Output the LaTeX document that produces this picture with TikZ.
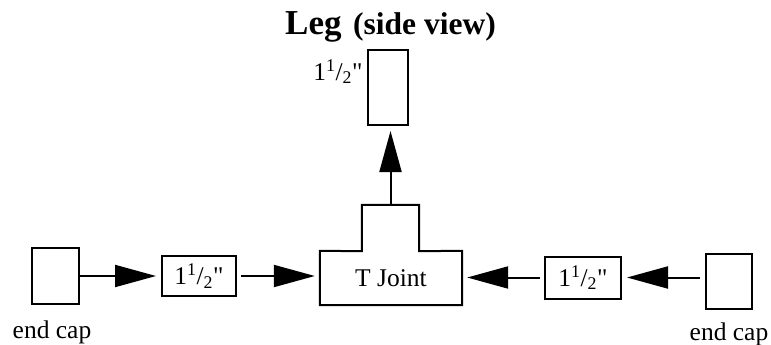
\documentclass[tikz,border=0pt]{standalone}
\usepackage{fontspec}
\setmainfont{Liberation Serif}
\usetikzlibrary{calc, positioning}
\usetikzlibrary{arrows.meta}

\newcommand{\halfinch}{1\textsuperscript{1}/\textsubscript{2}\textquotedbl}

\begin{document}
\begin{tikzpicture}[x=1pt,y=-1pt,
  part/.style={draw,line width=2pt,inner sep=0pt},
  label/.style={font=\fontsize{25.5}{27}\selectfont},
  link/.style={line width=2pt,-{Triangle[length=41pt,width=22pt]},shorten >=5pt}]
\useasboundingbox (0,0) rectangle (771,345);

% title
\node[font=\fontsize{35}{37}\selectfont\bfseries,anchor=base west,inner sep=0pt] (legtitle) at (285,35) {Leg};
\node[font=\fontsize{31.5}{33}\selectfont\bfseries,anchor=base west,inner sep=0pt] (sidetitle) at (353,35) {(side view)};

% parts
\node[part,minimum width=47pt,minimum height=56pt] (capL) at (55.5,276) {};
\node[part,label,minimum width=74pt,minimum height=40pt] (pipeL) at (199,276) {\halfinch};
\node[inner sep=0pt,label,minimum width=142pt,minimum height=54pt] (tbase) at (391,278) {T Joint};
\node[inner sep=0pt,minimum width=57pt,minimum height=46pt] (tstub) at (390.5,228) {};
\node[part,label,minimum width=76pt,minimum height=42pt] (pipeR) at (583,277.5) {\halfinch};
\node[part,minimum width=46pt,minimum height=55pt] (capR) at (729,281.5) {};
\node[part,minimum width=40pt,minimum height=75pt] (leg) at (388,87.5) {};

% T joint outline
\draw[line width=2pt] (tbase.south west) -- (tbase.south east) -- (tbase.north east)
  -- (tstub.south east) -- (tstub.north east) -- (tstub.north west)
  -- (tstub.south west) -- (tbase.north west) -- cycle;

% labels
\node[label,anchor=east] (leglabel) at ($(leg.west)+(-1,-16)$) {\halfinch};
\node[label,anchor=base] (capLlabel) at (52,338) {end cap};
\node[label,anchor=base] (capRlabel) at (729,340) {end cap};

% connectors
\draw[link] (capL.east) -- (capL.east -| pipeL.west);
\draw[link,shorten <=4pt] (pipeL.east) -- (pipeL.east -| tbase.west);
\draw[link,shorten <=5pt] (capR.west |- pipeR.east) -- (pipeR.east);
\draw[link,shorten <=4pt] (pipeR.west) -- (pipeR.west -| tbase.east);
\draw[link] (tstub.north) -- (tstub.north |- leg.south);
\end{tikzpicture}
\end{document}
